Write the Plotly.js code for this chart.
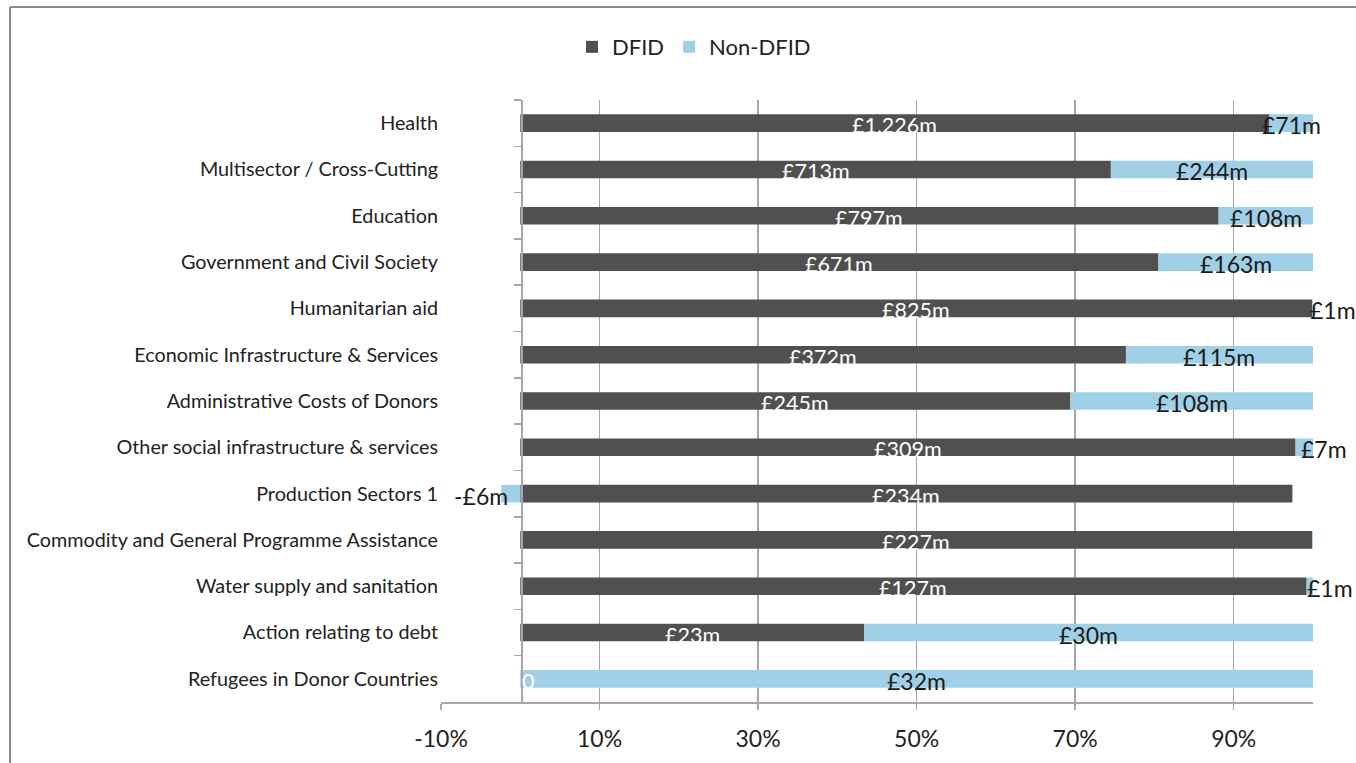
<!DOCTYPE html>
<html>
<head>
<meta charset="utf-8">
<script src="https://cdn.plot.ly/plotly-3.0.1.min.js"></script>
<style>
  html, body { margin: 0; padding: 0; background: #ffffff; overflow: hidden; }
  #chart { width: 1356px; height: 763px; }
</style>
</head>
<body>
<div id="chart"></div>
<script>
// ---- data ----
const categories = [
  "Health",
  "Multisector / Cross-Cutting",
  "Education",
  "Government and Civil Society",
  "Humanitarian aid",
  "Economic Infrastructure & Services",
  "Administrative Costs of Donors",
  "Other social infrastructure & services",
  "Production Sectors 1",
  "Commodity and General Programme Assistance",
  "Water supply and sanitation",
  "Action relating to debt",
  "Refugees in Donor Countries"
];
// share of each sector's spend (%)
const dfidShare    = [94.5, 74.5, 88.1, 80.5, 99.9, 76.4, 69.4, 97.8, 97.4, 99.9, 99.2, 43.4, 0];
const nonDfidShare = [5.5, 25.5, 11.9, 19.5, 0.1, 23.6, 30.6, 2.2, -2.4, 0.1, 0.8, 56.6, 100];
const dfidLabels    = ["£1,226m","£713m","£797m","£671m","£825m","£372m","£245m","£309m","£234m","£227m","£127m","£23m","0"];
const nonDfidLabels = ["£71m","£244m","£108m","£163m","£1m","£115m","£108m","£7m","-£6m","","£1m","£30m","£32m"];
const tickValues = [-10, 10, 30, 50, 70, 90];
const tickLabels = ["-10%", "10%", "30%", "50%", "70%", "90%"];

// ---- styles ----
const FONT = "Lato, 'Open Sans', sans-serif";
const DARK = "#505050";
const BLUE = "#a0d0e7";
const GRID = "#a6a6a6";

const traces = [
  {
    type: "bar", orientation: "h", name: "DFID",
    y: categories, x: dfidShare,
    marker: { color: DARK }, hoverinfo: "skip"
  },
  {
    type: "bar", orientation: "h", name: "Non-DFID",
    y: categories, x: nonDfidShare,
    marker: { color: BLUE }, hoverinfo: "skip"
  },
  {
    // carrier for the category tick axis that crosses at 0
    type: "scatter", mode: "markers", yaxis: "y2",
    y: categories, x: categories.map(() => 0),
    marker: { opacity: 0 }, showlegend: false, hoverinfo: "skip", cliponaxis: false
  }
];

// data labels placed from the data values
const annotations = [];
const SMALL = 3;
categories.forEach((c, i) => {
  const d = dfidShare[i], n = nonDfidShare[i];
  if (dfidLabels[i]) {
    const small = Math.abs(d) < SMALL;
    annotations.push({
      x: d / 2, y: c, xref: "x", yref: "y", text: dfidLabels[i], showarrow: false,
      xanchor: small ? "left" : "center", yshift: -2,
      font: { family: FONT, size: 21.5, color: "#ffffff" }
    });
  }
  if (nonDfidLabels[i]) {
    const cx = n >= 0 ? d + n / 2 : n / 2;
    let anchor = "center", shift = 0;
    if (Math.abs(n) < SMALL) {
      anchor = n >= 0 ? "left" : "right";
      shift = n >= 0 ? -5 : -1;
    }
    annotations.push({
      x: cx, y: c, xref: "x", yref: "y", text: nonDfidLabels[i], showarrow: false,
      xanchor: anchor, xshift: shift, yshift: -2,
      font: { family: FONT, size: 23, color: "#1a1a1a" }
    });
  }
});

// chart-area border (left and top edges visible in the crop)
const L = 441, R = 1313, T = 100, B = 702;
const px = v => (v - L) / (R - L);
const py = v => (B - v) / (B - T);
const shapes = [
  { type: "line", xref: "paper", yref: "paper", x0: px(10), x1: px(10), y0: py(7), y1: py(763),
    line: { color: "#8c8c8c", width: 2 } },
  { type: "line", xref: "paper", yref: "paper", x0: px(10), x1: px(1356), y0: py(7), y1: py(7),
    line: { color: "#8c8c8c", width: 2 } }
];

const layout = {
  width: 1356, height: 763,
  margin: { l: L, r: 1356 - R, t: T, b: 763 - B },
  paper_bgcolor: "#ffffff", plot_bgcolor: "#ffffff",
  barmode: "relative", bargap: 0.62,
  font: { family: FONT, color: "#222222" },
  showlegend: true,
  legend: {
    orientation: "h", x: px(694), xanchor: "center", y: py(47), yanchor: "middle",
    font: { family: FONT, size: 22, color: "#222222" }, traceorder: "normal",
    itemwidth: 30
  },
  xaxis: {
    range: [-10, 100],
    tickmode: "array", tickvals: tickValues, ticktext: tickLabels,
    showgrid: true, gridcolor: GRID, gridwidth: 1.5,
    zeroline: false,
    showline: true, linecolor: GRID, linewidth: 1.5,
    ticks: "outside", ticklen: 6, tickcolor: GRID, tickwidth: 1.5,
    tickfont: { family: FONT, size: 23, color: "#222222" },
    ticklabelstandoff: 10, fixedrange: true
  },
  yaxis: {
    type: "category", categoryorder: "array", categoryarray: categories,
    range: [categories.length - 0.5, -0.5],
    showgrid: false, zeroline: false, showline: false, ticks: "",
    tickfont: { family: FONT, size: 19.8, color: "#222222" },
    ticklabelstandoff: 2, fixedrange: true
  },
  yaxis2: {
    type: "category", categoryorder: "array", categoryarray: categories,
    range: [categories.length - 0.5, -0.5],
    overlaying: "y", anchor: "free", side: "left", position: px(521),
    showgrid: false, zeroline: false, showline: true, linecolor: GRID, linewidth: 1.5,
    ticks: "outside", tickson: "boundaries", ticklen: 7, tickcolor: GRID, tickwidth: 1.5,
    showticklabels: false, fixedrange: true
  },
  annotations: annotations,
  shapes: shapes
};

Plotly.newPlot("chart", traces, layout, { displayModeBar: false, staticPlot: true });
</script>
</body>
</html>
